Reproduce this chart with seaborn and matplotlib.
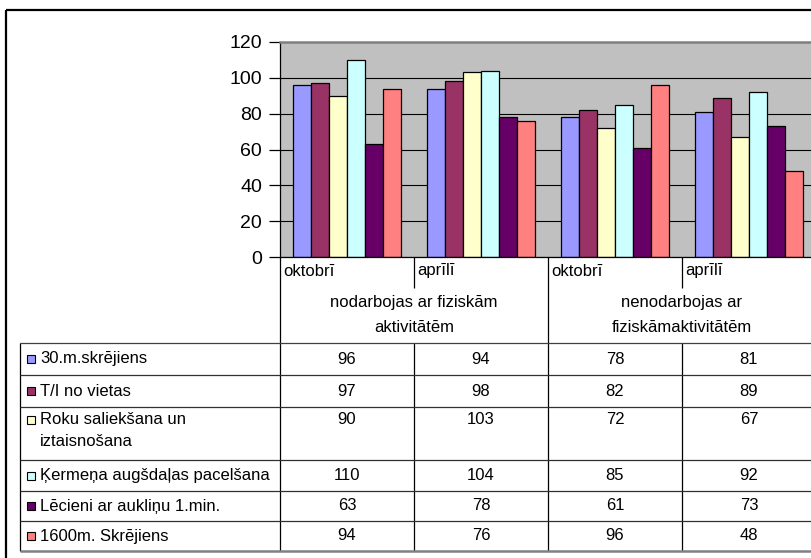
import numpy as np
import pandas as pd
import matplotlib
matplotlib.use("Agg")
import matplotlib.pyplot as plt
import seaborn as sns
from matplotlib.lines import Line2D
from matplotlib.patches import Rectangle

# ---- data -------------------------------------------------------------
series = [
    "30.m.skrējiens",
    "T/I no vietas",
    "Roku saliekšana un\niztaisnošana",
    "Ķermeņa augšdaļas pacelšana",
    "Lēcieni ar aukliņu 1.min.",
    "1600m. Skrējiens",
]
periods = ["oktobrī", "aprīlī", "oktobrī", "aprīlī"]
groups = ["nodarbojas ar fiziskām\naktivitātēm", "nenodarbojas ar\nfiziskāmaktivitātēm"]

run_30m = [96, 94, 78, 81]
jump_standing = [97, 98, 82, 89]
pushups = [90, 103, 72, 67]
torso_lift = [110, 104, 85, 92]
rope_jumps = [63, 78, 61, 73]
run_1600m = [94, 76, 96, 48]
values = [run_30m, jump_standing, pushups, torso_lift, rope_jumps, run_1600m]

colors = ["#9999FF", "#993366", "#FFFFCC", "#CCFFFF", "#660066", "#FF8080"]
y_ticks = [0, 20, 40, 60, 80, 100, 120]

# ---- long table for seaborn -------------------------------------------
slots = [f"{i}:{p}" for i, p in enumerate(periods)]
rows = []
for s, vals in zip(series, values):
    for slot, v in zip(slots, vals):
        rows.append({"slot": slot, "series": s, "value": v})
df = pd.DataFrame(rows)

# ---- figure (pixel helpers) -------------------------------------------
W, H = 812, 558
fig = plt.figure(figsize=(W / 100, H / 100), dpi=100)
fig.patch.set_facecolor("white")
FONT = ["Liberation Sans", "DejaVu Sans"]


def fx(px):
    return px / W


def fy(py):
    return 1 - py / H


def line(x0, y0, x1, y1, color="black", lw=0.9):
    fig.add_artist(Line2D([fx(x0), fx(x1)], [fy(y0), fy(y1)],
                          transform=fig.transFigure, color=color, lw=lw,
                          solid_capstyle="butt"))


def text(x, y, s, ha="center", size=12):
    fig.text(fx(x), fy(y), s, ha=ha, va="center", fontsize=size,
             family=FONT, color="black")


# column edges of the plot / data table
cols = [280, 414, 548, 682, 816]
ax_top, ax_bot = 42, 257

ax = fig.add_axes([fx(cols[0]), fy(ax_bot), fx(cols[-1]) - fx(cols[0]),
                   fy(ax_top) - fy(ax_bot)])
sns.barplot(data=df, x="slot", y="value", hue="series", order=slots,
            hue_order=series, palette=colors, saturation=1, width=0.806,
            edgecolor="black", linewidth=0.9, errorbar=None, legend=False,
            ax=ax)

ax.set_facecolor("#C0C0C0")
ax.set_xlim(-0.5, 3.5)
ax.set_ylim(0, 120)
ax.set_yticks(y_ticks)
ax.set_yticklabels([str(t) for t in y_ticks], fontsize=14, family=FONT)
ax.tick_params(axis="y", length=8, width=0.9, pad=5, color="black")
ax.set_xticks([])
ax.set_xlabel("")
ax.set_ylabel("")
ax.yaxis.grid(True, color="black", lw=0.8)
ax.set_axisbelow(True)
for side in ("left", "bottom"):
    ax.spines[side].set_color("black")
    ax.spines[side].set_linewidth(0.9)
ax.spines["top"].set_color("#808080")
ax.spines["top"].set_linewidth(1.8)
ax.spines["right"].set_visible(False)

# ---- outer chart border -----------------------------------------------
line(6, 10, 830, 10, lw=1.6)
line(6, 10, 6, 570, lw=1.6)

# ---- category header below the axis ------------------------------------
tbl_top = 343
row_lines = [343, 375, 407, 460, 491, 521, 551]

for i, p in enumerate(periods):
    text(cols[i] + 3, 271, p, ha="left")
for g, label in enumerate(groups):
    cx = (cols[2 * g] + cols[2 * g + 2]) / 2
    l1, l2 = label.split("\n")
    text(cx, 303, l1)
    text(cx, 327, l2)

# vertical separators
for i, x in enumerate(cols[:-1]):
    if i % 2 == 0:
        line(x, ax_bot, x, row_lines[-1])
    else:
        line(x, ax_bot, x, 288)
        line(x, tbl_top, x, row_lines[-1])

# ---- data table ---------------------------------------------------------
line(20, tbl_top, 830, tbl_top, color="#404040")
line(20, tbl_top, 20, row_lines[-1])
for y in row_lines[1:-1]:
    line(20, y, 830, y, color="#303030")
line(20, row_lines[-1], 830, row_lines[-1], color="#808080", lw=1.8)

for r, (s, vals, c) in enumerate(zip(series, values, colors)):
    y0, y1 = row_lines[r], row_lines[r + 1]
    parts = s.split("\n")
    first_y = (y0 + y1) / 2 if len(parts) == 1 else y0 + 13
    fig.add_artist(Rectangle((fx(27), fy(first_y + 4)), 8 / W, 8 / H,
                             transform=fig.transFigure, facecolor=c,
                             edgecolor="black", lw=0.8))
    for k, part in enumerate(parts):
        text(40, first_y + 21 * k, part, ha="left")
    for i, v in enumerate(vals):
        text((cols[i] + cols[i + 1]) / 2, first_y, str(v))

fig.savefig("out.png", dpi=100)
